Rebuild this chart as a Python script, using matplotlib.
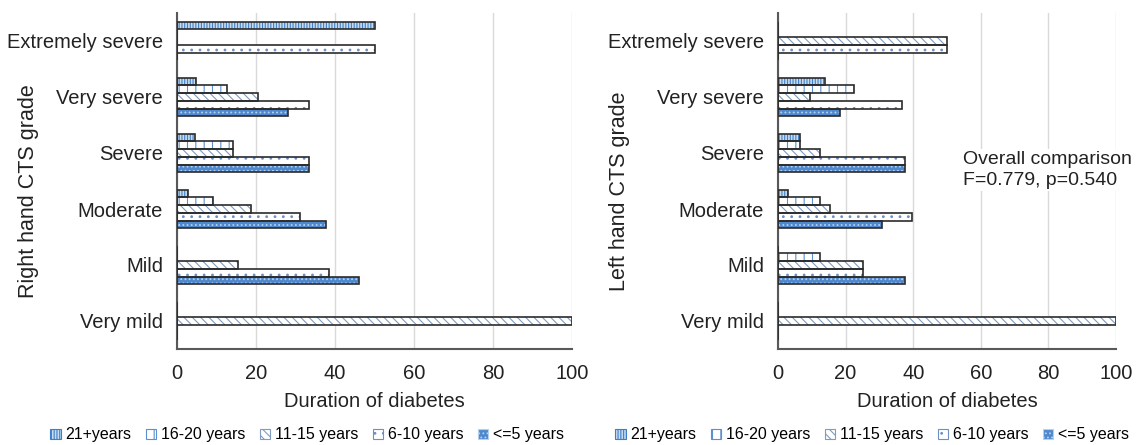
import matplotlib
matplotlib.use("Agg")
import matplotlib.pyplot as plt
from matplotlib.patches import Patch
import numpy as np

plt.rcParams["font.family"] = ["Liberation Sans", "DejaVu Sans"]
plt.rcParams["hatch.linewidth"] = 0.8

# CTS grades, bottom to top
grades = ["Very mild", "Mild", "Moderate", "Severe", "Very severe", "Extremely severe"]
durations = ["21+years", "16-20 years", "11-15 years", "6-10 years", "<=5 years"]

# percent per duration group, same order as grades
right_21 = [0, 0, 2.8, 4.6, 4.9, 50]
right_16 = [0, 0, 9.2, 14.1, 12.7, 0]
right_11 = [100, 15.4, 18.7, 14.1, 20.5, 0]
right_6 = [0, 38.4, 31.1, 33.3, 33.3, 50]
right_5 = [0, 46.2, 37.6, 33.3, 28.0, 0]

left_21 = [0, 0, 3.1, 6.5, 14.0, 0]
left_16 = [0, 12.5, 12.3, 6.5, 22.6, 0]
left_11 = [100, 25.0, 15.4, 12.5, 9.4, 50]
left_6 = [0, 25.0, 39.5, 37.5, 36.6, 50]
left_5 = [0, 37.5, 30.8, 37.5, 18.4, 0]

# face, hatch colour, hatch
STYLES = [
    ("#c5dcf2", "#3f7fc8", "||||||"),
    ("white", "#5b8fd0", "||"),
    ("white", "#7d9cc0", "\\\\\\\\"),
    ("white", "#6f8fc4", ".."),
    ("#4f88cc", "#b5d0f0", "...."),
]
EDGE = "#2b2b2b"
GRID = "#d9d9d9"
AXIS = "#595959"
FONT = 14.5

W, H = 1136, 445
fig = plt.figure(figsize=(W / 100, H / 100), dpi=100)


def px_box(x0, y0, x1, y1):
    return [x0 / W, 1 - y1 / H, (x1 - x0) / W, (y1 - y0) / H]


def draw_panel(ax, series, ylabel):
    y = np.arange(len(grades))
    bh = 0.138
    for k, vals in enumerate(series):
        face, hcol, hatch = STYLES[k]
        pos = y + (2 - k) * bh
        # hatch layer first, then a plain outline on top
        ax.barh(pos, vals, height=bh, color=face, edgecolor=hcol,
                hatch=hatch, linewidth=0, zorder=2)
        ax.barh(pos, vals, height=bh, fill=False, edgecolor=EDGE,
                linewidth=1.2, zorder=3)
    ax.set_xlim(0, 100)
    ax.set_ylim(-0.5, len(grades) - 0.5)
    ax.set_xticks(range(0, 101, 20))
    ax.set_yticks(y, grades)
    ax.tick_params(axis="both", length=0, labelsize=FONT, colors="#222222")
    ax.tick_params(axis="x", pad=11)
    ax.tick_params(axis="y", pad=10)
    ax.grid(axis="x", color=GRID, linewidth=1, zorder=0)
    for side in ("top", "right"):
        ax.spines[side].set_visible(False)
    for side in ("left", "bottom"):
        ax.spines[side].set_color(AXIS)
        ax.spines[side].set_linewidth(1.5)
    ax.set_xlabel("Duration of diabetes", fontsize=FONT, color="#222222", labelpad=6)
    ax.set_ylabel(ylabel, fontsize=15.5, color="#222222")


def legend_handles():
    return [Patch(facecolor=f, edgecolor=h, hatch=ht, linewidth=0.8, label=lab)
            for (f, h, ht), lab in zip(STYLES, durations)]


ax_r = fig.add_axes(px_box(177, 13, 572, 349))
draw_panel(ax_r, [right_21, right_16, right_11, right_6, right_5], "Right hand CTS grade")
ax_r.yaxis.set_label_coords(-0.35, 0.47)

ax_l = fig.add_axes(px_box(778, 13, 1116, 349))
draw_panel(ax_l, [left_21, left_16, left_11, left_6, left_5], "Left hand CTS grade")
ax_l.yaxis.set_label_coords(-0.438, 0.47)

fig.text(963 / W, 1 - 170 / H, "Overall comparison\nF=0.779, p=0.540",
         fontsize=14, color="#222222", ha="left", va="center", linespacing=1.25,
         bbox=dict(facecolor="white", edgecolor="none", pad=2))

for cx in (307, 872):
    fig.legend(handles=legend_handles(), loc="center", ncol=5,
               bbox_to_anchor=(cx / W, 1 - 435 / H), frameon=False,
               fontsize=11.5, handlelength=0.65, handleheight=0.65,
               handletextpad=0.3, columnspacing=0.9, borderpad=0)

fig.savefig("out.png", dpi=100)
